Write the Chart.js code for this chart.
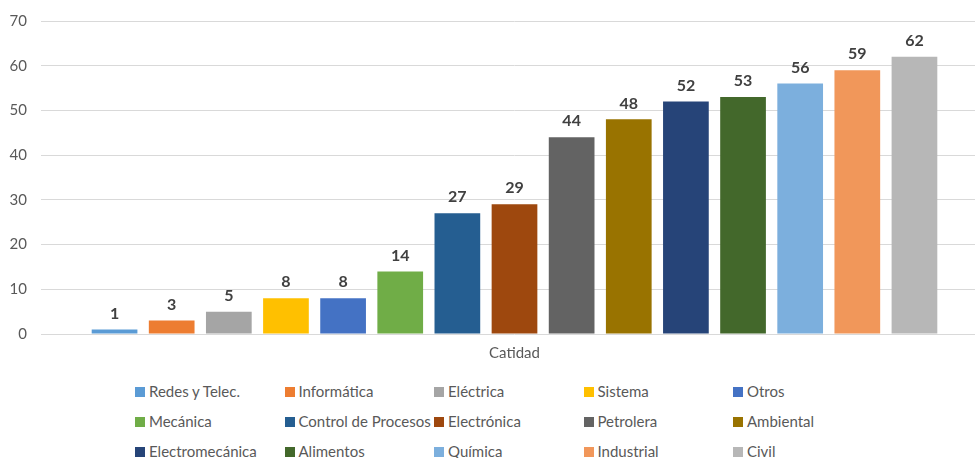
<!DOCTYPE html>
<html>
<head>
<meta charset="utf-8">
<script src="https://cdn.jsdelivr.net/npm/chart.js@4"></script>
<style>
  html, body { margin: 0; padding: 0; background: #fff; overflow: hidden; }
  #wrap { position: relative; width: 975px; height: 458px; overflow: hidden; }
  #box { position: absolute; left: 0; top: -2px; width: 990px; height: 366px; }
  #legend {
    position: absolute; left: 135px; top: 379px;
    display: grid; grid-template-columns: repeat(5, 149.5px); row-gap: 6px;
    font-family: Lato, "Open Sans", sans-serif; font-size: 15px; color: #595959;
  }
  #legend div { height: 24px; line-height: 24px; white-space: nowrap; }
  #legend span { display: inline-block; width: 10px; height: 10px; margin-right: 4px; }
</style>
</head>
<body>
<div id="wrap">
  <div id="box"><canvas id="chart"></canvas></div>
  <div id="legend"></div>
</div>
<script>
// data
const category = ["Catidad"];
const careers = [
  "Redes y Telec.", "Informática", "Eléctrica", "Sistema", "Otros",
  "Mecánica", "Control de Procesos", "Electrónica", "Petrolera", "Ambiental",
  "Electromecánica", "Alimentos", "Química", "Industrial", "Civil"
];
const counts = [1, 3, 5, 8, 8, 14, 27, 29, 44, 48, 52, 53, 56, 59, 62];
const colors = [
  "#5B9BD5", "#ED7D31", "#A5A5A5", "#FFC000", "#4472C4",
  "#70AD47", "#255E91", "#9E480E", "#636363", "#997300",
  "#264478", "#43682B", "#7CAFDD", "#F1975A", "#B7B7B7"
];
const yTicks = [0, 10, 20, 30, 40, 50, 60, 70];

const FONT = "Lato, 'Open Sans', sans-serif";

// value labels above each bar
const valueLabels = {
  id: "valueLabels",
  afterDatasetsDraw(chart) {
    const ctx = chart.ctx;
    ctx.save();
    ctx.font = "bold 16px " + FONT;
    ctx.fillStyle = "#404040";
    ctx.textAlign = "center";
    ctx.textBaseline = "bottom";
    chart.data.datasets.forEach((ds, i) => {
      const bar = chart.getDatasetMeta(i).data[0];
      ctx.fillText(ds.data[0], bar.x, bar.y - 8);
    });
    ctx.restore();
  }
};

const datasets = careers.map((name, i) => ({
  label: name,
  data: [counts[i]],
  backgroundColor: colors[i],
  borderWidth: 0,
  barPercentage: 0.8,
  categoryPercentage: 0.905
}));

const chart = new Chart(document.getElementById("chart"), {
  type: "bar",
  data: { labels: category, datasets: datasets },
  options: {
    responsive: true,
    maintainAspectRatio: false,
    animation: false,
    layout: { padding: { top: 12, right: 2, left: 0, bottom: 0 } },
    plugins: { legend: { display: false }, tooltip: { enabled: false } },
    scales: {
      x: {
        grid: { display: false },
        border: { display: false },
        ticks: { color: "#595959", font: { family: FONT, size: 15 }, padding: 2 }
      },
      y: {
        min: 0,
        max: 70,
        afterBuildTicks: (axis) => { axis.ticks = yTicks.map((v) => ({ value: v })); },
        afterFit: (axis) => { axis.width = 41; },
        grid: { color: "#D9D9D9", lineWidth: 1, drawTicks: false },
        border: { display: false },
        ticks: { color: "#595959", font: { family: FONT, size: 15 }, padding: 14 }
      }
    }
  },
  plugins: [valueLabels]
});

// html legend in a fixed 5-column grid
const legend = document.getElementById("legend");
careers.forEach((name, i) => {
  const item = document.createElement("div");
  const sw = document.createElement("span");
  sw.style.background = colors[i];
  item.appendChild(sw);
  item.appendChild(document.createTextNode(name));
  legend.appendChild(item);
});
</script>
</body>
</html>
